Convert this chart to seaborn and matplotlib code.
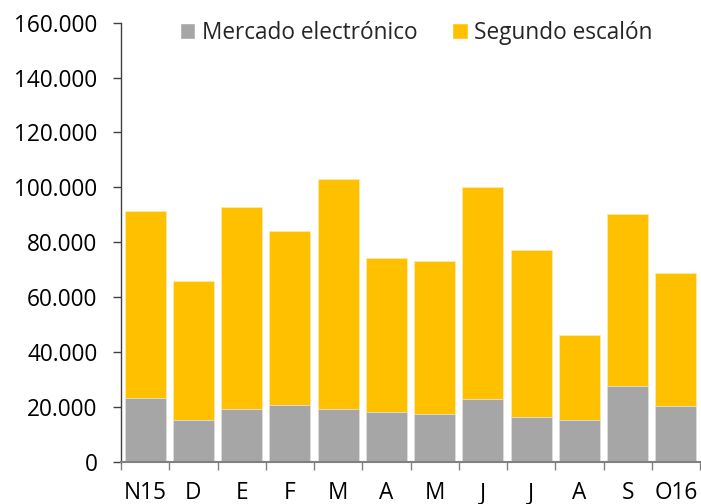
import numpy as np
import pandas as pd
import matplotlib.pyplot as plt
import matplotlib.ticker as mticker
from matplotlib.patches import Patch
import seaborn as sns

months = ['N15', 'D', 'E', 'F', 'M', 'A', 'M', 'J', 'J', 'A', 'S', 'O16']
mercado = [23200, 15100, 19300, 20500, 19300, 18200, 17300, 22800, 16300, 15200, 27700, 20400]
segundo = [68300, 50800, 73600, 63500, 83600, 56000, 55800, 77400, 60800, 30900, 62500, 48400]

GREY = '#A6A6A6'
YELLOW = '#FFC000'

sns.set_theme(style='white')
plt.rcParams['font.family'] = ['Open Sans', 'DejaVu Sans']

df = pd.DataFrame({
    'pos': np.arange(len(months)),
    'Mercado': mercado,
    'Segundo': segundo,
})
df['Total'] = df['Mercado'] + df['Segundo']

fig = plt.figure(figsize=(7.01, 5.04), dpi=100)
ax = fig.add_axes([121 / 701, 42.3 / 504, 579 / 701, 439 / 504])

# stacked look: totals in yellow, grey part drawn over them
sns.barplot(data=df, x='pos', y='Total', color=YELLOW, width=0.85,
            edgecolor='#FFE9A8', linewidth=0.6, saturation=1, ax=ax)
sns.barplot(data=df, x='pos', y='Mercado', color=GREY, width=0.85,
            edgecolor='#E0E0E0', linewidth=0.6, saturation=1, ax=ax)

ax.set_xlim(-0.5, len(months) - 0.5)
ax.set_ylim(0, 160000)
ax.set_yticks(np.arange(0, 160001, 20000))
ax.yaxis.set_major_formatter(
    mticker.FuncFormatter(lambda v, p: f'{int(v):,}'.replace(',', '.'))
)
ax.set_xticks(np.arange(len(months)))
ax.set_xticklabels(months)
ax.set_xticks(np.arange(-0.5, len(months), 1), minor=True)

ax.set_xlabel('')
ax.set_ylabel('')

for side in ['top', 'right']:
    ax.spines[side].set_visible(False)
ax.spines['left'].set_color('#404040')
ax.spines['bottom'].set_color('#808080')
ax.spines['left'].set_linewidth(1.0)
ax.spines['bottom'].set_linewidth(1.5)

ax.tick_params(axis='y', which='major', left=True, length=6, width=1,
               color='#404040', direction='out', labelsize=16.3, pad=11,
               labelcolor='black')
ax.tick_params(axis='x', which='major', bottom=True, length=0,
               labelsize=16.3, pad=14, labelcolor='black')
ax.tick_params(axis='x', which='minor', bottom=True, length=6, width=1,
               color='#808080', direction='out')

handles = [Patch(facecolor=GREY, label='Mercado electrónico'),
           Patch(facecolor=YELLOW, label='Segundo escalón')]
ax.legend(handles=handles, loc='upper center', bbox_to_anchor=(0.51, 1.05),
          ncol=2, frameon=False, fontsize=16.3, handlelength=0.7,
          handleheight=0.7, handletextpad=0.3, columnspacing=1.5)

fig.savefig('out.png', dpi=100)
